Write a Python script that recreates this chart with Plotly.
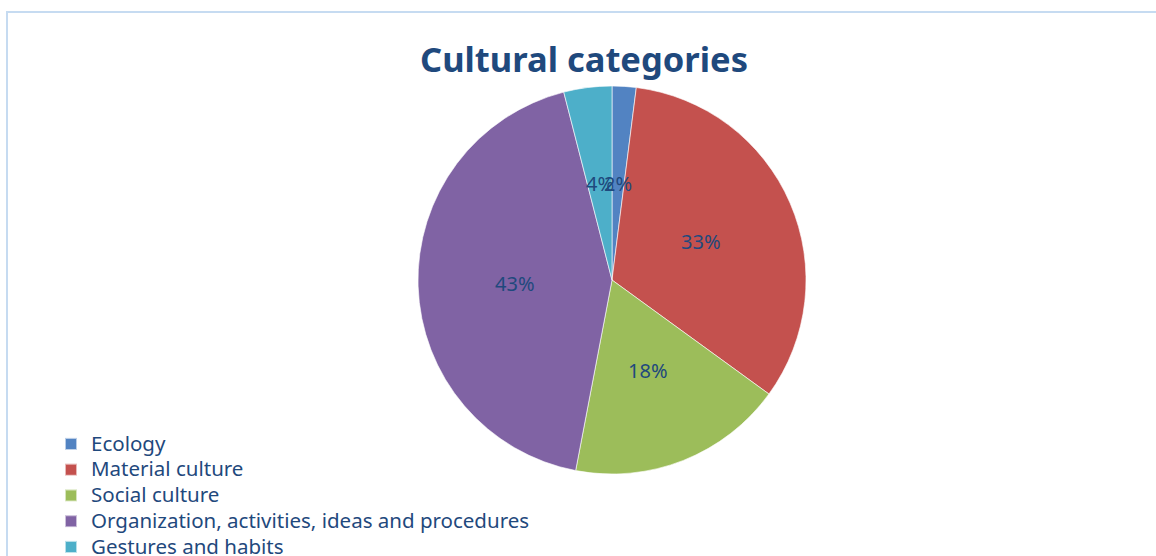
import math
import plotly.graph_objects as go

categories = ["Ecology", "Material culture", "Social culture",
              "Organization, activities, ideas and procedures", "Gestures and habits"]
values = [2, 33, 18, 43, 4]
colors = ["#5283C2", "#C4514E", "#9CBD5A", "#8063A4", "#4DAFC9"]

W, H = 1156, 556
CX, CY, R = 612, 280, 194  # pie centre / radius in pixels
TXT = "#1F497D"
FONT = "Noto Sans"

# legend text drawn a little larger than the legend's row pitch font
legend_labels = [f"<span style='font-size:20.5px'>{c}</span>" for c in categories]

fig = go.Figure(go.Pie(
    labels=legend_labels,
    values=values,
    sort=False,
    direction="clockwise",
    rotation=0,
    marker=dict(colors=colors, line=dict(color="rgba(255,255,255,0.6)", width=1)),
    textinfo="none",
    hoverinfo="label+percent",
    domain=dict(x=[(CX - R) / W, (CX + R) / W], y=[1 - (CY + R) / H, 1 - (CY - R) / H]),
))

# percentage labels at half radius on each slice bisector
total = sum(values)
cum = 0
annotations = []
for v in values:
    mid = (cum + v / 2) / total
    cum += v
    th = 2 * math.pi * mid
    px = CX + 0.5 * R * math.sin(th)
    py = CY - 0.5 * R * math.cos(th)
    annotations.append(dict(
        x=px / W, y=1 - py / H, xref="paper", yref="paper",
        text=f"{round(100 * v / total)}%", showarrow=False,
        font=dict(family=FONT, size=20, color=TXT),
        xanchor="center", yanchor="middle",
    ))

fig.update_layout(
    width=W, height=H,
    margin=dict(l=0, r=0, t=0, b=0, autoexpand=False),
    paper_bgcolor="white",
    plot_bgcolor="white",
    title=dict(text="<b>Cultural categories</b>", x=584 / W, xanchor="center",
               y=1 - 60 / H, yanchor="middle",
               font=dict(family=FONT, size=34.5, color=TXT)),
    showlegend=True,
    legend=dict(x=51 / W, xanchor="left", y=1 - 426 / H, yanchor="top",
                font=dict(family=FONT, size=17.5, color=TXT),
                tracegroupgap=0, itemsizing="constant",
                bgcolor="rgba(0,0,0,0)"),
    annotations=annotations,
    shapes=[dict(type="rect", xref="paper", yref="paper",
                 x0=7 / W, x1=1.01, y0=-0.05, y1=1 - 12 / H,
                 line=dict(color="#C6DBF1", width=2), layer="below")],
)

fig.write_html("out.html")
